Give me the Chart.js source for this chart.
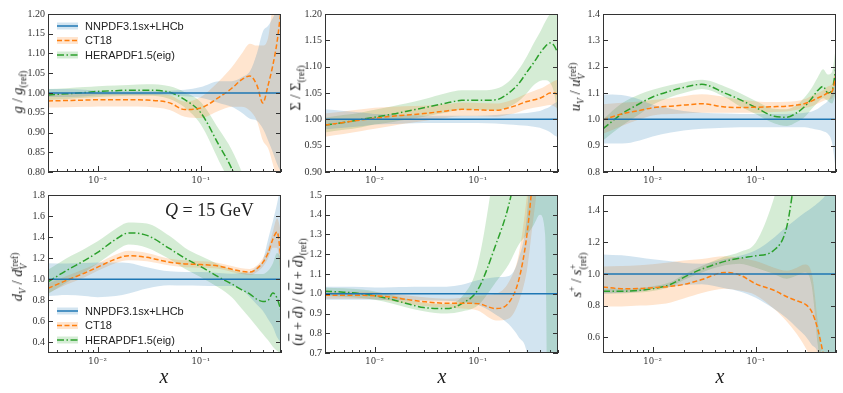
<!DOCTYPE html>
<html>
<head>
<meta charset="utf-8">
<script src="https://cdn.jsdelivr.net/npm/chart.js@4/dist/chart.umd.min.js"></script>
<style>
  body { margin: 0; background: #fff; width: 843px; height: 393px; position: relative; overflow: hidden; font-family: "Liberation Serif", serif; color: #222; }
  canvas { position: absolute; }
  .lab { position: absolute; white-space: nowrap; line-height: 1; }
  .yt { transform: translate(-50%, -50%) rotate(-90deg); font-size: 14.5px; }
  .xt { transform: translate(-50%, -50%); font-size: 20px; font-style: italic; }
  .ss { display: inline-block; vertical-align: middle; font-size: 0.66em; line-height: 0.95; text-align: left; }
  .ol { text-decoration: overline; }
  sub { font-size: 0.66em; }
  sup { font-size: 0.66em; }
</style>
</head>
<body>
<script>
// x grid shared by every panel
const xs = [0.0033, 0.005, 0.0075, 0.01, 0.015, 0.02, 0.03, 0.05, 0.07, 0.1, 0.15, 0.2, 0.25, 0.3, 0.35, 0.4, 0.45, 0.5, 0.55, 0.6];
const xTicks = [0.01, 0.1];
const xTickLabels = ['10\u207B\u00B2', '10\u207B\u00B9'];
const xMinor = [0.004, 0.005, 0.006, 0.007, 0.008, 0.009, 0.02, 0.03, 0.04, 0.05, 0.06, 0.07, 0.08, 0.09, 0.2, 0.3, 0.4, 0.5, 0.6];

// NNPDF3.1sx+LHCb is the reference, so its ratio is 1
const unity = [1, 1, 1, 1, 1, 1, 1, 1, 1, 1, 1, 1, 1, 1, 1, 1, 1, 1, 1, 1];

// gluon
const g_nn_lo = [0.99, 0.99, 0.992, 0.994, 0.995, 0.995, 0.995, 0.994, 0.992, 0.988, 0.975, 0.965, 0.95, 0.935, 0.93, 0.91, 0.88, 0.85, 0.82, 0.80];
const g_nn_hi = [1.01, 1.01, 1.008, 1.006, 1.005, 1.005, 1.005, 1.006, 1.008, 1.015, 1.03, 1.03, 1.04, 1.055, 1.1, 1.155, 1.17, 1.19, 1.21, 1.22];
const g_ct = [0.980, 0.981, 0.982, 0.983, 0.983, 0.983, 0.982, 0.975, 0.958, 0.962, 0.989, 1.012, 1.034, 1.043, 1.02, 0.975, 1.02, 1.07, 1.13, 1.21];
const g_ct_lo = [0.963, 0.964, 0.965, 0.966, 0.966, 0.966, 0.965, 0.957, 0.94, 0.937, 0.955, 0.965, 0.965, 0.955, 0.93, 0.88, 0.86, 0.82, 0.78, 0.75];
const g_ct_hi = [0.997, 0.998, 0.999, 1.0, 1.0, 1.0, 0.999, 0.994, 0.978, 0.99, 1.03, 1.065, 1.1, 1.125, 1.12, 1.12, 1.14, 1.22, 1.25, 1.25];
const g_hera = [0.995, 0.998, 1.001, 1.004, 1.006, 1.007, 1.007, 1.002, 0.983, 0.95, 0.868, 0.808, 0.74, 0.67, 0.6, 0.53, 0.46, 0.39, 0.32, 0.25];
const g_hera_lo = [0.982, 0.985, 0.988, 0.99, 0.992, 0.993, 0.993, 0.985, 0.963, 0.92, 0.828, 0.76, 0.68, 0.6, 0.52, 0.44, 0.36, 0.28, 0.2, 0.12];
const g_hera_hi = [1.01, 1.012, 1.015, 1.017, 1.019, 1.02, 1.022, 1.017, 1.002, 0.977, 0.908, 0.856, 0.8, 0.74, 0.68, 0.62, 0.56, 0.5, 0.44, 0.38];
const g_ticks = [0.80, 0.85, 0.90, 0.95, 1.00, 1.05, 1.10, 1.15, 1.20];

// singlet
const sig_nn_lo = [0.981, 0.984, 0.987, 0.99, 0.991, 0.992, 0.993, 0.993, 0.993, 0.993, 0.992, 0.99, 0.989, 0.988, 0.986, 0.984, 0.98, 0.976, 0.97, 0.966];
const sig_nn_hi = [1.019, 1.016, 1.013, 1.01, 1.009, 1.008, 1.007, 1.007, 1.007, 1.007, 1.008, 1.01, 1.011, 1.012, 1.014, 1.016, 1.02, 1.024, 1.03, 1.034];
const sig_ct = [0.989, 0.994, 0.999, 1.002, 1.006, 1.008, 1.011, 1.016, 1.019, 1.018, 1.017, 1.022, 1.028, 1.034, 1.037, 1.04, 1.045, 1.05, 1.05, 1.047];
const sig_ct_lo = [0.967, 0.972, 0.978, 0.982, 0.988, 0.992, 0.997, 1.003, 1.006, 1.006, 1.005, 1.009, 1.014, 1.019, 1.022, 1.024, 1.026, 1.027, 1.025, 1.02];
const sig_ct_hi = [1.011, 1.015, 1.019, 1.022, 1.024, 1.025, 1.026, 1.029, 1.032, 1.031, 1.03, 1.035, 1.042, 1.049, 1.054, 1.058, 1.063, 1.068, 1.073, 1.075];
const sig_hera = [0.989, 0.994, 1.0, 1.004, 1.01, 1.015, 1.022, 1.031, 1.036, 1.036, 1.037, 1.05, 1.068, 1.09, 1.108, 1.125, 1.138, 1.145, 1.14, 1.125];
const sig_hera_lo = [0.975, 0.98, 0.985, 0.99, 0.995, 0.999, 1.005, 1.013, 1.018, 1.018, 1.017, 1.024, 1.035, 1.05, 1.065, 1.073, 1.074, 1.07, 1.05, 1.0];
const sig_hera_hi = [1.003, 1.008, 1.013, 1.018, 1.025, 1.03, 1.038, 1.05, 1.055, 1.055, 1.058, 1.072, 1.095, 1.12, 1.145, 1.165, 1.185, 1.2, 1.21, 1.22];
const sig_ticks = [0.90, 0.95, 1.00, 1.05, 1.10, 1.15, 1.20];

// u valence
const uv_nn_lo = [0.908, 0.908, 0.92, 0.935, 0.95, 0.958, 0.964, 0.968, 0.97, 0.97, 0.97, 0.97, 0.97, 0.97, 0.965, 0.96, 0.955, 0.945, 0.91, 0.8];
const uv_nn_hi = [1.094, 1.092, 1.075, 1.055, 1.04, 1.032, 1.025, 1.022, 1.02, 1.02, 1.02, 1.02, 1.022, 1.025, 1.03, 1.04, 1.055, 1.07, 1.1, 1.15];
const uv_ct = [0.998, 1.02, 1.034, 1.044, 1.05, 1.054, 1.059, 1.047, 1.045, 1.046, 1.048, 1.05, 1.054, 1.06, 1.07, 1.081, 1.09, 1.1, 1.106, 1.17];
const uv_ct_lo = [0.945, 0.975, 1.0, 1.015, 1.02, 1.022, 1.025, 1.025, 1.025, 1.025, 1.028, 1.03, 1.036, 1.043, 1.05, 1.06, 1.07, 1.075, 1.08, 1.11];
const uv_ct_hi = [1.057, 1.063, 1.068, 1.073, 1.08, 1.088, 1.095, 1.085, 1.075, 1.068, 1.066, 1.067, 1.07, 1.077, 1.09, 1.1, 1.11, 1.125, 1.135, 1.2];
const uv_hera = [0.964, 1.02, 1.06, 1.085, 1.108, 1.121, 1.133, 1.1, 1.075, 1.045, 1.012, 1.008, 1.025, 1.05, 1.08, 1.11, 1.125, 1.1, 1.11, 1.2];
const uv_hera_lo = [0.92, 0.975, 1.02, 1.055, 1.085, 1.1, 1.115, 1.085, 1.05, 1.02, 0.985, 0.975, 0.99, 1.01, 1.04, 1.065, 1.08, 1.07, 1.06, 1.1];
const uv_hera_hi = [1.0, 1.06, 1.095, 1.112, 1.13, 1.14, 1.15, 1.125, 1.1, 1.07, 1.04, 1.038, 1.055, 1.085, 1.12, 1.16, 1.19, 1.17, 1.18, 1.28];
const uv_ticks = [0.8, 0.9, 1.0, 1.1, 1.2, 1.3, 1.4];

// d valence
const dv_nn_lo = [0.84, 0.85, 0.84, 0.83, 0.84, 0.866, 0.913, 0.944, 0.94, 0.938, 0.935, 0.935, 0.9, 0.83, 0.76, 0.7, 0.62, 0.55, 0.45, 0.4];
const dv_nn_hi = [1.152, 1.15, 1.155, 1.16, 1.16, 1.155, 1.115, 1.075, 1.07, 1.068, 1.06, 1.053, 1.06, 1.07, 1.12, 1.18, 1.38, 1.55, 1.72, 1.9];
const dv_ct = [0.913, 0.99, 1.06, 1.115, 1.193, 1.224, 1.208, 1.162, 1.146, 1.14, 1.125, 1.095, 1.075, 1.068, 1.1, 1.16, 1.25, 1.38, 1.45, 1.2];
const dv_ct_lo = [0.87, 0.95, 1.02, 1.08, 1.155, 1.18, 1.17, 1.13, 1.115, 1.11, 1.1, 1.07, 1.05, 1.04, 1.07, 1.12, 1.2, 1.3, 1.3, 1.0];
const dv_ct_hi = [0.96, 1.03, 1.1, 1.15, 1.235, 1.27, 1.25, 1.195, 1.18, 1.17, 1.155, 1.125, 1.105, 1.098, 1.13, 1.2, 1.3, 1.45, 1.58, 1.45];
const dv_hera = [0.975, 1.084, 1.18, 1.255, 1.38, 1.44, 1.417, 1.29, 1.2, 1.12, 1.02, 0.955, 0.9, 0.86, 0.81, 0.79, 0.8, 0.87, 0.82, 0.7];
const dv_hera_lo = [0.86, 0.97, 1.07, 1.15, 1.27, 1.33, 1.3, 1.19, 1.1, 1.02, 0.92, 0.83, 0.72, 0.63, 0.55, 0.48, 0.42, 0.36, 0.32, 0.3];
const dv_hera_hi = [1.09, 1.2, 1.29, 1.36, 1.48, 1.54, 1.53, 1.41, 1.3, 1.22, 1.14, 1.09, 1.07, 1.05, 1.05, 1.05, 1.08, 1.15, 1.25, 1.2];
const dv_ticks = [0.4, 0.6, 0.8, 1.0, 1.2, 1.4, 1.6, 1.8];

// ubar + dbar
const ud_nn_lo = [0.969, 0.969, 0.97, 0.97, 0.968, 0.967, 0.966, 0.965, 0.958, 0.944, 0.894, 0.845, 0.78, 0.7, 0.4, 0, 0, 0, 0, 0];
const ud_nn_hi = [1.035, 1.035, 1.034, 1.032, 1.033, 1.034, 1.035, 1.036, 1.045, 1.068, 1.084, 1.09, 1.18, 1.4, 2, 2.2, 2.2, 2.2, 2.2, 2.2];
const ud_ct = [0.993, 0.993, 0.992, 0.99, 0.982, 0.972, 0.96, 0.952, 0.952, 0.95, 0.925, 0.955, 1.07, 1.3, 1.65, 2, 2, 2, 2, 2];
const ud_ct_lo = [0.975, 0.975, 0.974, 0.972, 0.962, 0.95, 0.938, 0.93, 0.925, 0.915, 0.865, 0.875, 0.96, 1.12, 1.4, 1.6, 1.6, 1.6, 1.6, 1.6];
const ud_ct_hi = [1.01, 1.01, 1.01, 1.008, 1.0, 0.992, 0.982, 0.975, 0.98, 0.99, 1.0, 1.06, 1.2, 1.5, 1.9, 2.2, 2.2, 2.2, 2.2, 2.2];
const ud_hera = [1.013, 1.008, 1.0, 0.99, 0.97, 0.952, 0.93, 0.925, 0.95, 1.02, 1.25, 1.45, 1.7, 2, 2, 2, 2, 2, 2, 2];
const ud_hera_lo = [0.99, 0.985, 0.978, 0.97, 0.95, 0.932, 0.912, 0.9, 0.91, 0.94, 1.06, 1.15, 1.25, 1.3, 1.35, 1.4, 1.3, -1, -1, -1];
const ud_hera_hi = [1.03, 1.028, 1.022, 1.012, 0.993, 0.975, 0.955, 0.948, 0.985, 1.15, 1.7, 2.2, 2.5, 2.5, 2.5, 2.5, 2.5, 2.5, 2.5, 2.5];
const ud_ticks = [0.7, 0.8, 0.9, 1.0, 1.1, 1.2, 1.3, 1.4, 1.5];

// strange
const s_nn_lo = [0.876, 0.882, 0.89, 0.907, 0.92, 0.93, 0.935, 0.91, 0.89, 0.85, 0.78, 0.72, 0.66, 0.61, 0.55, 0.5, 0.3, 0.2, 0.2, 0.2];
const s_nn_hi = [1.124, 1.118, 1.105, 1.093, 1.08, 1.07, 1.065, 1.095, 1.115, 1.15, 1.23, 1.3, 1.35, 1.39, 1.42, 1.45, 1.48, 1.52, 1.56, 1.6];
const s_ct = [0.918, 0.907, 0.908, 0.913, 0.922, 0.934, 0.965, 1.01, 0.994, 0.938, 0.897, 0.856, 0.83, 0.81, 0.76, 0.65, 0.5, 0.38, 0.3, 0.2];
const s_ct_lo = [0.794, 0.795, 0.8, 0.804, 0.82, 0.845, 0.88, 0.907, 0.895, 0.866, 0.78, 0.7, 0.62, 0.54, 0.45, 0.35, 0.25, 0.2, 0.2, 0.2];
const s_ct_hi = [1.047, 1.05, 1.055, 1.062, 1.075, 1.085, 1.095, 1.113, 1.103, 1.082, 1.04, 1.02, 1.04, 1.06, 1.0, 0.7, 0.4, 0.3, 0.2, 0.1];
const s_hera = [0.891, 0.891, 0.897, 0.907, 0.935, 0.979, 1.031, 1.08, 1.1, 1.115, 1.15, 1.3, 1.7, 2, 2, 2, 2, 2, 2, 2];
const s_hera_lo = [0.876, 0.877, 0.883, 0.893, 0.92, 0.962, 1.01, 1.055, 1.065, 1.04, 1.0, 0.97, 0.99, 1.01, 0.92, 0.55, 0.2, 0, 0, 0];
const s_hera_hi = [0.906, 0.906, 0.912, 0.922, 0.95, 0.996, 1.05, 1.11, 1.14, 1.2, 1.48, 1.8, 2.2, 2.5, 2.5, 2.5, 2.5, 2.5, 2.5, 2.5];
const s_ticks = [0.6, 0.8, 1.0, 1.2, 1.4];

const seriesNames = ['NNPDF3.1sx+LHCb', 'CT18', 'HERAPDF1.5(eig)'];
const lineColors = ['#1f77b4', '#ff7f0e', '#2ca02c'];
const bandColors = ['rgba(31,119,180,0.2)', 'rgba(255,127,14,0.2)', 'rgba(44,160,44,0.2)'];
const dashes = [[], [5, 2.5], [7, 2.5, 1.5, 2.5]];

const X_MIN = 0.0033, X_MAX = 0.6;
const PW = 233, PH = 161;
const PAD_L = 40, PAD_T = 6, PAD_R = 6, PAD_B = 22;

const panels = [
  { left: 48, top: 11, min: 0.80, max: 1.20, dec: 2, ticks: g_ticks, legend: 12,
    sets: [[unity, g_nn_lo, g_nn_hi], [g_ct, g_ct_lo, g_ct_hi], [g_hera, g_hera_lo, g_hera_hi]],
    title: '<i>g</i> / <i>g</i><sub>(ref)</sub>', tx: 19, ty: 92 },
  { left: 325, top: 11, min: 0.90, max: 1.20, dec: 2, ticks: sig_ticks,
    sets: [[unity, sig_nn_lo, sig_nn_hi], [sig_ct, sig_ct_lo, sig_ct_hi], [sig_hera, sig_hera_lo, sig_hera_hi]],
    title: '&Sigma; / &Sigma;<sub>(ref)</sub>', tx: 297, ty: 88 },
  { left: 603, top: 11, min: 0.8, max: 1.4, dec: 1, ticks: uv_ticks,
    sets: [[unity, uv_nn_lo, uv_nn_hi], [uv_ct, uv_ct_lo, uv_ct_hi], [uv_hera, uv_hera_lo, uv_hera_hi]],
    title: '<i>u</i><sub><i>V</i></sub> / <i>u</i><span class="ss">(ref)<br><i>V</i></span>', tx: 577, ty: 87 },
  { left: 48, top: 192, min: 0.3, max: 1.8, dec: 1, ticks: dv_ticks, legend: 116,
    sets: [[unity, dv_nn_lo, dv_nn_hi], [dv_ct, dv_ct_lo, dv_ct_hi], [dv_hera, dv_hera_lo, dv_hera_hi]],
    title: '<i>d</i><sub><i>V</i></sub> / <i>d</i><span class="ss">(ref)<br><i>V</i></span>', tx: 19, ty: 277 },
  { left: 325, top: 192, min: 0.7, max: 1.5, dec: 1, ticks: ud_ticks,
    sets: [[unity, ud_nn_lo, ud_nn_hi], [ud_ct, ud_ct_lo, ud_ct_hi], [ud_hera, ud_hera_lo, ud_hera_hi]],
    title: '(<i class="ol">u</i> + <i class="ol">d</i>) / (<i class="ol">u</i> + <i class="ol">d</i>)<sub>(ref)</sub>', tx: 299, ty: 292 },
  { left: 603, top: 192, min: 0.5, max: 1.5, dec: 1, ticks: s_ticks,
    sets: [[unity, s_nn_lo, s_nn_hi], [s_ct, s_ct_lo, s_ct_hi], [s_hera, s_hera_lo, s_hera_hi]],
    title: '<i>s</i><sup>+</sup> / <i>s</i><span class="ss">+<br>(ref)</span>', tx: 577, ty: 275 }
];

const pts = arr => xs.map((x, i) => ({ x: x, y: arr[i] }));

// frame, inward ticks and legend, drawn the matplotlib way
const framePlugin = {
  id: 'frame',
  afterDatasetsDraw(chart, args, opts) {
    const { ctx, chartArea: a, scales } = chart;
    const x = scales.x, y = scales.y;
    ctx.save();
    ctx.strokeStyle = '#333';
    ctx.lineWidth = 1;
    ctx.beginPath();
    y.ticks.forEach(t => {
      const py = Math.round(y.getPixelForValue(t.value)) + 0.5;
      ctx.moveTo(a.left, py); ctx.lineTo(a.left + 5, py);
      ctx.moveTo(a.right, py); ctx.lineTo(a.right - 5, py);
    });
    xTicks.forEach(v => {
      const px = Math.round(x.getPixelForValue(v)) + 0.5;
      ctx.moveTo(px, a.bottom); ctx.lineTo(px, a.bottom - 6);
    });
    xMinor.forEach(v => {
      const px = Math.round(x.getPixelForValue(v)) + 0.5;
      ctx.moveTo(px, a.bottom); ctx.lineTo(px, a.bottom - 3);
    });
    ctx.stroke();
    ctx.strokeRect(Math.round(a.left) + 0.5, Math.round(a.top) + 0.5, Math.round(a.width) - 1, Math.round(a.height) - 1);

    if (opts.legendTop != null) {
      seriesNames.forEach((name, i) => {
        const ly = a.top + opts.legendTop + i * 14.5;
        const lx = a.left + 9;
        ctx.fillStyle = bandColors[i];
        ctx.fillRect(lx, ly - 3.5, 21, 7);
        ctx.strokeStyle = lineColors[i];
        ctx.lineWidth = 1.5;
        ctx.setLineDash(dashes[i]);
        ctx.beginPath();
        ctx.moveTo(lx, ly); ctx.lineTo(lx + 21, ly);
        ctx.stroke();
        ctx.setLineDash([]);
        ctx.fillStyle = '#222';
        ctx.font = '11px "Liberation Sans", Arial, sans-serif';
        ctx.textBaseline = 'middle';
        ctx.fillText(name, lx + 28, ly + 0.5);
      });
    }
    ctx.restore();
  }
};

panels.forEach(p => {
  const cv = document.createElement('canvas');
  cv.width = PW + PAD_L + PAD_R;
  cv.height = PH + PAD_T + PAD_B;
  cv.style.left = (p.left - PAD_L) + 'px';
  cv.style.top = (p.top - PAD_T) + 'px';
  document.body.appendChild(cv);

  const datasets = [];
  p.sets.forEach((s, i) => {
    datasets.push({
      data: pts(s[0]), borderColor: lineColors[i], borderWidth: 1.5, borderDash: dashes[i],
      pointRadius: 0, fill: false, cubicInterpolationMode: 'monotone', clip: 0
    });
  });
  p.sets.forEach((s, i) => {
    datasets.push({
      data: pts(s[2]), borderWidth: 0, borderColor: 'rgba(0,0,0,0)', backgroundColor: bandColors[i],
      pointRadius: 0, fill: '+1', cubicInterpolationMode: 'monotone', clip: 0
    });
    datasets.push({
      data: pts(s[1]), borderWidth: 0, borderColor: 'rgba(0,0,0,0)',
      pointRadius: 0, fill: false, cubicInterpolationMode: 'monotone', clip: 0
    });
  });

  new Chart(cv.getContext('2d'), {
    type: 'line',
    data: { datasets: datasets },
    options: {
      responsive: false,
      animation: false,
      layout: { padding: { left: 0, top: PAD_T, right: PAD_R, bottom: 0 } },
      plugins: {
        legend: { display: false },
        tooltip: { enabled: false },
        filler: { drawTime: 'beforeDatasetsDraw' },
        frame: { legendTop: p.legend }
      },
      scales: {
        x: {
          type: 'logarithmic', min: X_MIN, max: X_MAX,
          grid: { display: false, drawTicks: false },
          border: { display: false },
          afterBuildTicks: s => { s.ticks = xTicks.map(v => ({ value: v })); },
          afterFit: s => { s.height = PAD_B; },
          ticks: {
            autoSkip: false, maxRotation: 0, padding: 4, color: '#333',
            font: { family: '"DejaVu Serif", serif', size: 8.5 },
            callback: v => { const i = xTicks.indexOf(v); return i >= 0 ? xTickLabels[i] : ''; }
          }
        },
        y: {
          min: p.min, max: p.max,
          grid: { display: false, drawTicks: false },
          border: { display: false },
          afterBuildTicks: s => { s.ticks = p.ticks.map(v => ({ value: v })); },
          afterFit: s => { s.width = PAD_L; },
          ticks: {
            autoSkip: false, padding: 3, color: '#333',
            font: { family: '"Liberation Serif", serif', size: 10 },
            callback: v => Number(v).toFixed(p.dec)
          }
        }
      }
    },
    plugins: [framePlugin]
  });

  const t = document.createElement('div');
  t.className = 'lab yt';
  t.style.left = p.tx + 'px';
  t.style.top = p.ty + 'px';
  t.innerHTML = p.title;
  document.body.appendChild(t);
});

// x axis labels under the bottom row
[164, 442, 720].forEach(cx => {
  const d = document.createElement('div');
  d.className = 'lab xt';
  d.style.left = cx + 'px';
  d.style.top = '376px';
  d.textContent = 'x';
  document.body.appendChild(d);
});

const q = document.createElement('div');
q.className = 'lab';
q.style.left = '165px';
q.style.top = '201px';
q.style.fontSize = '18px';
q.innerHTML = '<i>Q</i> = 15 GeV';
document.body.appendChild(q);
</script>
</body>
</html>
